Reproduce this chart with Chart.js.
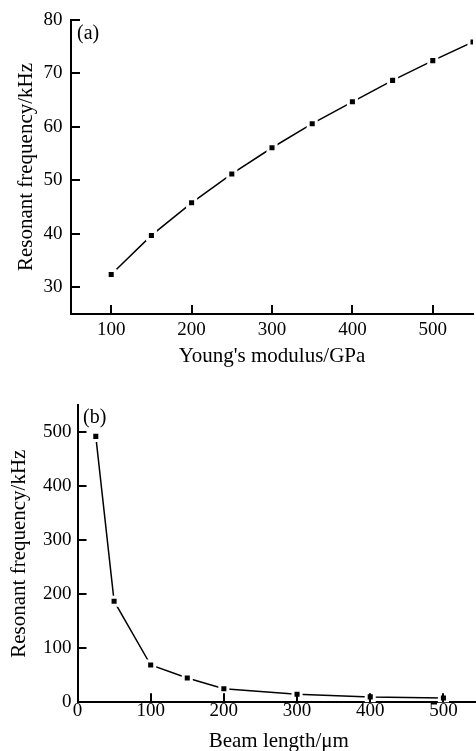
<!DOCTYPE html>
<html>
<head>
<meta charset="utf-8">
<script src="https://cdn.jsdelivr.net/npm/chart.js@4.4.1/dist/chart.umd.min.js"></script>
<style>
    html, body { margin: 0; padding: 0; background: #fff; overflow: hidden; }
    #chart-a { position: absolute; left: 0; top: 0; }
    #chart-b { position: absolute; left: 0; top: 370px; }
</style>
</head>
<body>
<canvas id="chart-a" width="476" height="370"></canvas>
<canvas id="chart-b" width="480" height="385"></canvas>
<script>
// (a) resonant frequency vs Young's modulus
const modulusGPa = [100, 150, 200, 250, 300, 350, 400, 450, 500, 550];
const freqA = [32.4, 39.7, 45.8, 51.2, 56.1, 60.6, 64.7, 68.7, 72.4, 75.9];
const xTicksA = [100, 200, 300, 400, 500];
const yTicksA = [30, 40, 50, 60, 70, 80];

// (b) resonant frequency vs beam length
const beamLength = [25, 50, 100, 150, 200, 300, 400, 500];
const freqB = [492, 187, 69, 45, 25, 15, 10, 8];
const xTicksB = [0, 100, 200, 300, 400, 500];
const yTicksB = [0, 100, 200, 300, 400, 500];

const serif = '"Liberation Serif", "Times New Roman", serif';

function toPoints(xs, ys) {
    return xs.map((x, i) => ({ x: x, y: ys[i] }));
}

function fixedTicks(values) {
    return function (scale) {
        scale.ticks = values.map(v => ({ value: v }));
    };
}

// tick marks pointing into the plot, plus the "(a)" / "(b)" tag
function extras(text, x, y) {
    return {
        id: 'extras',
        afterDraw(chart) {
            const ctx = chart.ctx;
            const area = chart.chartArea;
            const len = 9;
            ctx.save();
            ctx.strokeStyle = '#000';
            ctx.lineWidth = 2;
            ctx.beginPath();
            chart.scales.x.ticks.forEach(t => {
                const px = Math.round(chart.scales.x.getPixelForValue(t.value));
                ctx.moveTo(px, area.bottom);
                ctx.lineTo(px, area.bottom - len);
            });
            chart.scales.y.ticks.forEach(t => {
                const py = Math.round(chart.scales.y.getPixelForValue(t.value));
                ctx.moveTo(area.left, py);
                ctx.lineTo(area.left + len, py);
            });
            ctx.stroke();

            ctx.font = '20px ' + serif;
            ctx.fillStyle = '#000';
            ctx.textBaseline = 'middle';
            ctx.fillText(text, x, y);
            ctx.restore();
        }
    };
}

function makeChart(id, opts) {
    const tickFont = { family: serif, size: 19, lineHeight: 1 };
    const titleFont = { family: serif, size: 21 };

    return new Chart(document.getElementById(id), {
        type: 'scatter',
        data: {
            datasets: [{
                data: toPoints(opts.xs, opts.ys),
                showLine: true,
                borderColor: '#000',
                borderWidth: 1.5,
                pointStyle: 'rect',
                pointRadius: 5.7,
                pointBackgroundColor: '#000',
                pointBorderColor: '#fff',
                pointBorderWidth: 3
            }]
        },
        options: {
            responsive: false,
            animation: false,
            layout: { autoPadding: false, padding: opts.padding },
            plugins: { legend: { display: false }, tooltip: { enabled: false } },
            scales: {
                x: {
                    type: 'linear',
                    min: opts.xMin,
                    max: opts.xMax,
                    border: { display: true, color: '#000', width: 2 },
                    grid: { display: false, drawTicks: false },
                    ticks: { color: '#000', padding: opts.xTickPad, autoSkip: false, maxRotation: 0, font: tickFont },
                    title: { display: true, text: opts.xTitle, color: '#000', padding: { top: 0, bottom: opts.xTitlePad }, font: titleFont },
                    afterBuildTicks: fixedTicks(opts.xTicks),
                    afterFit: scale => { scale.height = opts.xHeight; }
                },
                y: {
                    type: 'linear',
                    min: opts.yMin,
                    max: opts.yMax,
                    border: { display: true, color: '#000', width: 2 },
                    grid: { display: false, drawTicks: false },
                    ticks: { color: '#000', padding: opts.yTickPad, autoSkip: false, font: tickFont },
                    title: { display: true, text: 'Resonant frequency/kHz', color: '#000', padding: { top: opts.yTitlePad, bottom: 0 }, font: titleFont },
                    afterBuildTicks: fixedTicks(opts.yTicks),
                    afterFit: scale => { scale.width = opts.yWidth; }
                }
            }
        },
        plugins: [extras(opts.tag, opts.tagX, opts.tagY)]
    });
}

makeChart('chart-a', {
    xs: modulusGPa, ys: freqA, xTicks: xTicksA, yTicks: yTicksA,
    xMin: 50, xMax: 550, yMin: 25, yMax: 80,
    xTitle: "Young's modulus/GPa",
    padding: { top: 20, right: 3, bottom: 0, left: 0 },
    xHeight: 56, yWidth: 71,
    xTickPad: 7, yTickPad: 8.5, xTitlePad: 0.7, yTitlePad: 14,
    tag: '(a)', tagX: 77, tagY: 34
});

makeChart('chart-b', {
    xs: beamLength, ys: freqB, xTicks: xTicksB, yTicks: yTicksB,
    xMin: 0, xMax: 550, yMin: 0, yMax: 550,
    xTitle: 'Beam length/\u03bcm',
    padding: { top: 35, right: 0, bottom: 0, left: 0 },
    xHeight: 52.7, yWidth: 77.5,
    xTickPad: -1, yTickPad: 6, xTitlePad: 0.7, yTitlePad: 6.5,
    tag: '(b)', tagX: 83, tagY: 48
});
</script>
</body>
</html>
